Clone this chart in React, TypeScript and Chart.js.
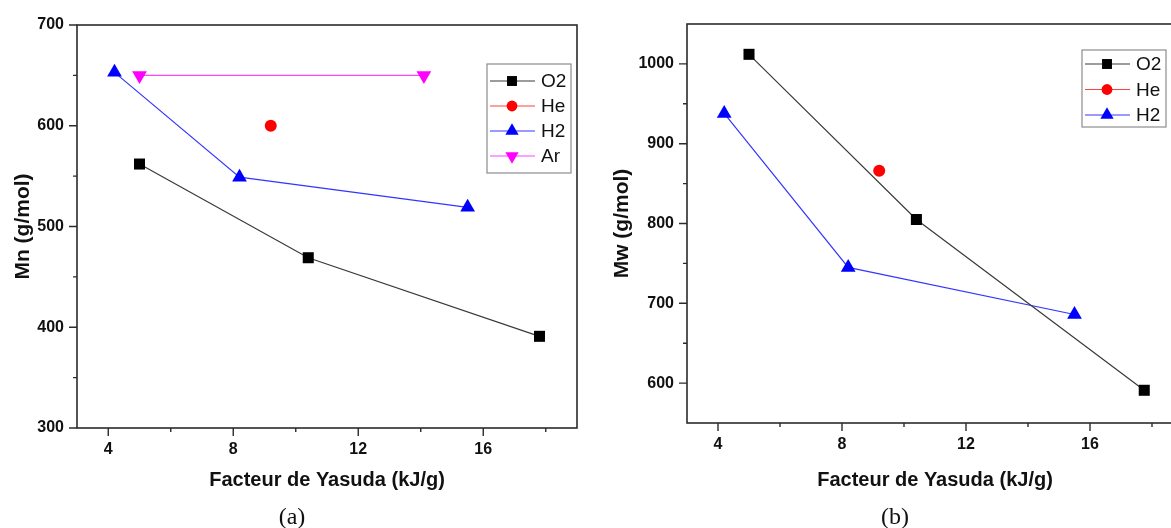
import React, { useEffect, useRef } from 'react';
import { Chart, registerables } from 'chart.js';

Chart.register(...registerables);

// ---------- data ----------
const xTickValues = [4, 8, 12, 16];
const xMinorTicks = [6, 10, 14, 18];

// Panel (a): Mn
const mnTickValues = [300, 400, 500, 600, 700];
const mnMinorTicks = [350, 450, 550, 650];
const yasudaO2_a = [5.0, 10.4, 17.8];
const mnO2 = [562, 469, 391];
const yasudaHe_a = [9.2];
const mnHe = [600];
const yasudaH2_a = [4.2, 8.2, 15.5];
const mnH2 = [653, 549, 519];
const yasudaAr_a = [5.0, 14.1];
const mnAr = [650, 650];

// Panel (b): Mw
const mwTickValues = [600, 700, 800, 900, 1000];
const mwMinorTicks = [650, 750, 850, 950];
const yasudaO2_b = [5.0, 10.4, 17.75];
const mwO2 = [1012, 805, 591];
const yasudaHe_b = [9.2];
const mwHe = [866];
const yasudaH2_b = [4.2, 8.2, 15.5];
const mwH2 = [938, 745, 686];

const FAMILY = '"Liberation Sans", Arial, sans-serif';

const pts = (xs: number[], ys: number[]) => xs.map((x, i) => ({ x, y: ys[i] }));

function drawMarker(ctx: CanvasRenderingContext2D, style: string, rot: number, x: number, y: number, r: number, color: string) {
  ctx.save();
  ctx.fillStyle = color;
  ctx.beginPath();
  if (style === 'rect') {
    const s = Math.SQRT1_2 * r;
    ctx.rect(x - s, y - s, 2 * s, 2 * s);
  } else if (style === 'circle') {
    ctx.arc(x, y, r, 0, Math.PI * 2);
  } else if (style === 'triangle') {
    let rad = (rot * Math.PI) / 180;
    ctx.moveTo(x + Math.sin(rad) * r, y - Math.cos(rad) * r);
    rad += (2 * Math.PI) / 3;
    ctx.lineTo(x + Math.sin(rad) * r, y - Math.cos(rad) * r);
    rad += (2 * Math.PI) / 3;
    ctx.lineTo(x + Math.sin(rad) * r, y - Math.cos(rad) * r);
    ctx.closePath();
  }
  ctx.fill();
  ctx.restore();
}

const frameTicks = {
  id: 'frameTicks',
  afterDatasetsDraw(chart: any, _a: any, o: any) {
    const { ctx, chartArea: a, scales } = chart;
    ctx.save();
    ctx.strokeStyle = '#2b2b2b';
    ctx.lineWidth = 1.6;
    ctx.strokeRect(a.left, a.top, a.right - a.left, a.bottom - a.top);
    ctx.lineWidth = 1.4;
    ctx.beginPath();
    const xs = scales.x;
    const ys = scales.y;
    o.xMajor.forEach((v: number) => {
      const p = xs.getPixelForValue(v);
      ctx.moveTo(p, a.bottom);
      ctx.lineTo(p, a.bottom + 8);
    });
    o.xMinor.forEach((v: number) => {
      const p = xs.getPixelForValue(v);
      ctx.moveTo(p, a.bottom);
      ctx.lineTo(p, a.bottom + 4);
    });
    o.yMajor.forEach((v: number) => {
      const p = ys.getPixelForValue(v);
      ctx.moveTo(a.left, p);
      ctx.lineTo(a.left - 8, p);
    });
    o.yMinor.forEach((v: number) => {
      const p = ys.getPixelForValue(v);
      ctx.moveTo(a.left, p);
      ctx.lineTo(a.left - 4, p);
    });
    ctx.stroke();
    ctx.restore();
  },
};

const boxLegend = {
  id: 'boxLegend',
  afterDraw(chart: any, _a: any, o: any) {
    const { ctx } = chart;
    ctx.save();
    ctx.fillStyle = '#ffffff';
    ctx.fillRect(o.left, o.top, o.width, o.height);
    ctx.strokeStyle = '#8c8c8c';
    ctx.lineWidth = 1.2;
    ctx.strokeRect(o.left, o.top, o.width, o.height);
    chart.data.datasets.forEach((ds: any, i: number) => {
      const y = o.top + o.firstRow + i * o.rowStep;
      ctx.strokeStyle = ds.borderColor;
      ctx.lineWidth = ds.borderWidth;
      ctx.beginPath();
      ctx.moveTo(o.left + 3, y);
      ctx.lineTo(o.left + 48, y);
      ctx.stroke();
      drawMarker(ctx, ds.pointStyle, ds.pointRotation || 0, o.left + 25, y, ds.pointRadius * 0.9, ds.pointBackgroundColor);
      ctx.fillStyle = '#111111';
      ctx.font = `19px ${FAMILY}`;
      ctx.textBaseline = 'middle';
      ctx.textAlign = 'left';
      ctx.fillText(ds.label, o.left + 54, y + 1);
    });
    ctx.restore();
  },
};

const seriesStyle: Record<string, any> = {
  O2: { borderColor: '#3a3a3a', pointBackgroundColor: '#000000', pointBorderColor: '#000000', pointStyle: 'rect', pointRadius: 7.8, pointRotation: 0, showLine: true },
  He: { borderColor: '#ff4040', pointBackgroundColor: '#ff0000', pointBorderColor: '#ff0000', pointStyle: 'circle', pointRadius: 6, pointRotation: 0, showLine: false },
  H2: { borderColor: '#3535ff', pointBackgroundColor: '#0000ff', pointBorderColor: '#0000ff', pointStyle: 'triangle', pointRadius: 8.5, pointRotation: 0, showLine: true },
  Ar: { borderColor: '#ff45ff', pointBackgroundColor: '#ff00ff', pointBorderColor: '#ff00ff', pointStyle: 'triangle', pointRadius: 8.5, pointRotation: 180, showLine: true },
};

const makeDataset = (label: string, data: { x: number; y: number }[]) => ({
  label,
  data,
  borderWidth: 1.2,
  pointBorderWidth: 0,
  tension: 0,
  ...seriesStyle[label],
});

interface PanelProps {
  left: number;
  width: number;
  datasets: any[];
  yMin: number;
  yMax: number;
  yTicks: number[];
  yMinor: number[];
  yTitle: string;
  yAxisWidth: number;
  yTitlePad: number;
  padTop: number;
  padRight: number;
  xAxisHeight: number;
  legend: any;
}

function Panel(p: PanelProps) {
  const ref = useRef<HTMLCanvasElement | null>(null);
  useEffect(() => {
    if (!ref.current) return;
    const tickFont = { family: FAMILY, size: 16, weight: 'bold' as const };
    const titleFont = { family: FAMILY, size: 20, weight: 'bold' as const };
    const yTitleFont = { family: FAMILY, size: 21, weight: 'bold' as const };
    const chart = new Chart(ref.current, {
      type: 'scatter',
      data: { datasets: p.datasets },
      plugins: [frameTicks, boxLegend],
      options: {
        animation: false,
        responsive: false,
        maintainAspectRatio: false,
        layout: { padding: { top: p.padTop, right: p.padRight, left: 0, bottom: 0 } },
        plugins: {
          legend: { display: false },
          tooltip: { enabled: false },
          frameTicks: { xMajor: xTickValues, xMinor: xMinorTicks, yMajor: p.yTicks, yMinor: p.yMinor },
          boxLegend: p.legend,
        } as any,
        scales: {
          x: {
            type: 'linear',
            min: 3,
            max: 19,
            afterBuildTicks: (s: any) => {
              s.ticks = xTickValues.map((v) => ({ value: v }));
            },
            afterFit: (s: any) => {
              s.height = p.xAxisHeight;
            },
            grid: { display: false, drawTicks: false },
            border: { display: false },
            ticks: {
              padding: 12,
              color: '#111111',
              font: tickFont,
              maxRotation: 0,
              autoSkip: false,
              callback: (v: any) => String(v),
            },
            title: {
              display: true,
              text: 'Facteur de Yasuda (kJ/g)',
              color: '#111111',
              font: titleFont,
              padding: { top: 0, bottom: 36 },
            },
          },
          y: {
            type: 'linear',
            min: p.yMin,
            max: p.yMax,
            afterBuildTicks: (s: any) => {
              s.ticks = p.yTicks.map((v) => ({ value: v }));
            },
            afterFit: (s: any) => {
              s.width = p.yAxisWidth;
            },
            grid: { display: false, drawTicks: false },
            border: { display: false },
            ticks: {
              padding: 13,
              color: '#111111',
              font: tickFont,
              autoSkip: false,
              callback: (v: any) => String(v),
            },
            title: {
              display: true,
              text: p.yTitle,
              color: '#111111',
              font: yTitleFont,
              padding: { top: p.yTitlePad, bottom: 0 },
            },
          },
        },
      } as any,
    });
    return () => chart.destroy();
  }, []);
  return (
    <canvas
      ref={ref}
      width={p.width}
      height={528}
      style={{ position: 'absolute', left: p.left, top: 0, display: 'block' }}
    />
  );
}

const captionStyle = (center: number): React.CSSProperties => ({
  position: 'absolute',
  left: center - 50,
  width: 100,
  top: 504,
  lineHeight: '24px',
  fontSize: 24,
  textAlign: 'center',
  fontFamily: '"Liberation Serif", "Times New Roman", serif',
  color: '#111',
});

export default function App() {
  const datasetsA = [
    makeDataset('O2', pts(yasudaO2_a, mnO2)),
    makeDataset('He', pts(yasudaHe_a, mnHe)),
    makeDataset('H2', pts(yasudaH2_a, mnH2)),
    makeDataset('Ar', pts(yasudaAr_a, mnAr)),
  ];
  const datasetsB = [
    makeDataset('O2', pts(yasudaO2_b, mwO2)),
    makeDataset('He', pts(yasudaHe_b, mwHe)),
    makeDataset('H2', pts(yasudaH2_b, mwH2)),
  ];
  return (
    <div style={{ position: 'fixed', left: 0, top: 0, width: 1171, height: 528, overflow: 'hidden', background: '#fff' }}>
      <Panel
        left={0}
        width={590}
        datasets={datasetsA}
        yMin={300}
        yMax={700}
        yTicks={mnTickValues}
        yMinor={mnMinorTicks}
        yTitle="Mn (g/mol)"
        yAxisWidth={77}
        yTitlePad={11}
        padTop={25}
        padRight={13}
        xAxisHeight={100}
        legend={{ left: 487, top: 64, width: 84, height: 109, firstRow: 17, rowStep: 25 }}
      />
      <Panel
        left={590}
        width={620}
        datasets={datasetsB}
        yMin={550}
        yMax={1050}
        yTicks={mwTickValues}
        yMinor={mwMinorTicks}
        yTitle="Mw (g/mol)"
        yAxisWidth={97}
        yTitlePad={20}
        padTop={24}
        padRight={27}
        xAxisHeight={105}
        legend={{ left: 492, top: 50, width: 84, height: 77, firstRow: 14, rowStep: 25.5 }}
      />
      <div style={captionStyle(292)}>(a)</div>
      <div style={captionStyle(895)}>(b)</div>
    </div>
  );
}
